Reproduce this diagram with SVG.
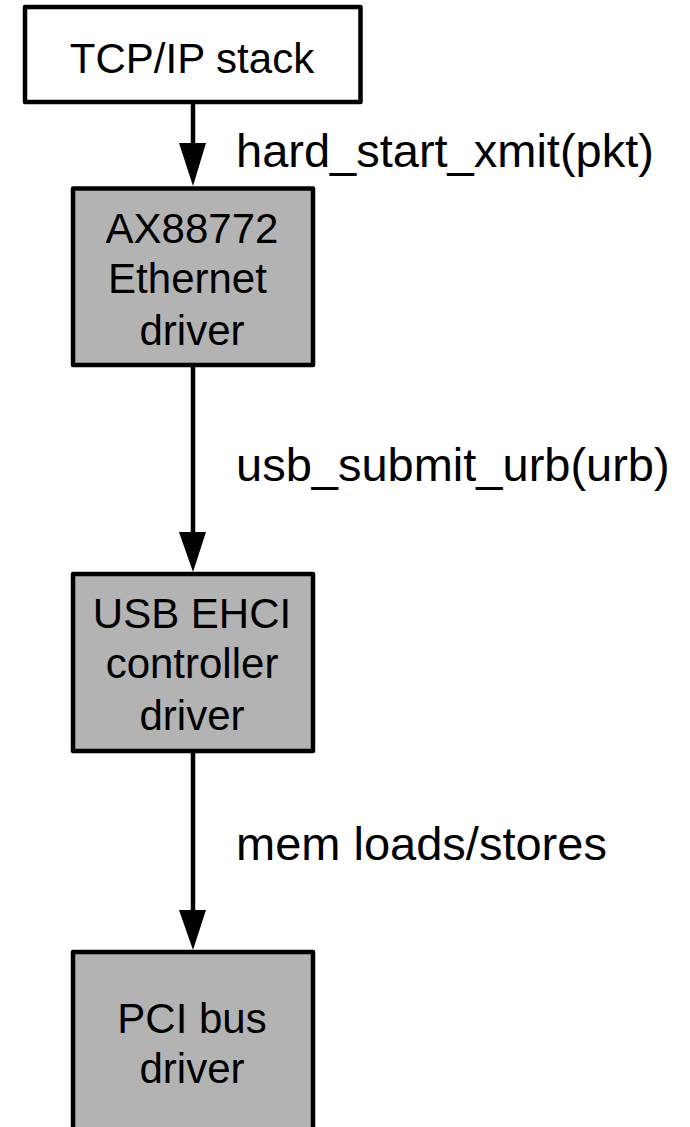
<svg xmlns="http://www.w3.org/2000/svg" width="690" height="1127" viewBox="0 0 690 1127">
  <style>
    .box { stroke: #000; stroke-width: 4.5; stroke-linejoin: round; }
    .plain { fill: #fff; }
    .shaded { fill: #b3b3b3; }
    .node-text { font-family: "Liberation Sans", Arial, sans-serif; font-size: 42px; fill: #000; text-anchor: middle; }
    .edge-label { font-family: "Liberation Sans", Arial, sans-serif; font-size: 47px; fill: #000; }
    .edge { stroke: #000; stroke-width: 4.5; fill: none; }
    .head { fill: #000; }
  </style>

  <rect width="690" height="1127" fill="#fff"/>

  <!-- call-path connectors -->
  <g id="connectors">
    <line class="edge" x1="193" y1="104" x2="193" y2="146"/>
    <polygon class="head" points="179,143 206,143 193,186"/>
    <line class="edge" x1="193" y1="366" x2="193" y2="535"/>
    <polygon class="head" points="179,532 206,532 193,572"/>
    <line class="edge" x1="193" y1="752" x2="193" y2="913"/>
    <polygon class="head" points="179,910 206,910 193,950"/>
    <text class="edge-label" x="236" y="167">hard_start_xmit(pkt)</text>
    <text class="edge-label" x="236" y="481">usb_submit_urb(urb)</text>
    <text class="edge-label" x="236" y="860">mem loads/stores</text>
  </g>

  <g id="tcpip-stack">
    <rect class="box plain" x="25" y="7" width="335.5" height="95"/>
    <text class="node-text" x="192" y="73">TCP/IP stack</text>
  </g>

  <g id="ax88772-driver">
    <rect class="box shaded" x="73" y="188.5" width="240" height="176.5"/>
    <text class="node-text" x="192" y="243">AX88772</text>
    <text class="node-text" x="187.5" y="293">Ethernet</text>
    <text class="node-text" x="192" y="345">driver</text>
  </g>

  <g id="ehci-driver">
    <rect class="box shaded" x="73" y="574" width="240" height="177"/>
    <text class="node-text" x="192" y="628">USB EHCI</text>
    <text class="node-text" x="192" y="678">controller</text>
    <text class="node-text" x="192" y="730">driver</text>
  </g>

  <g id="pci-bus-driver">
    <rect class="box shaded" x="73" y="952" width="240" height="190"/>
    <text class="node-text" x="192" y="1033">PCI bus</text>
    <text class="node-text" x="192" y="1083">driver</text>
  </g>
</svg>
